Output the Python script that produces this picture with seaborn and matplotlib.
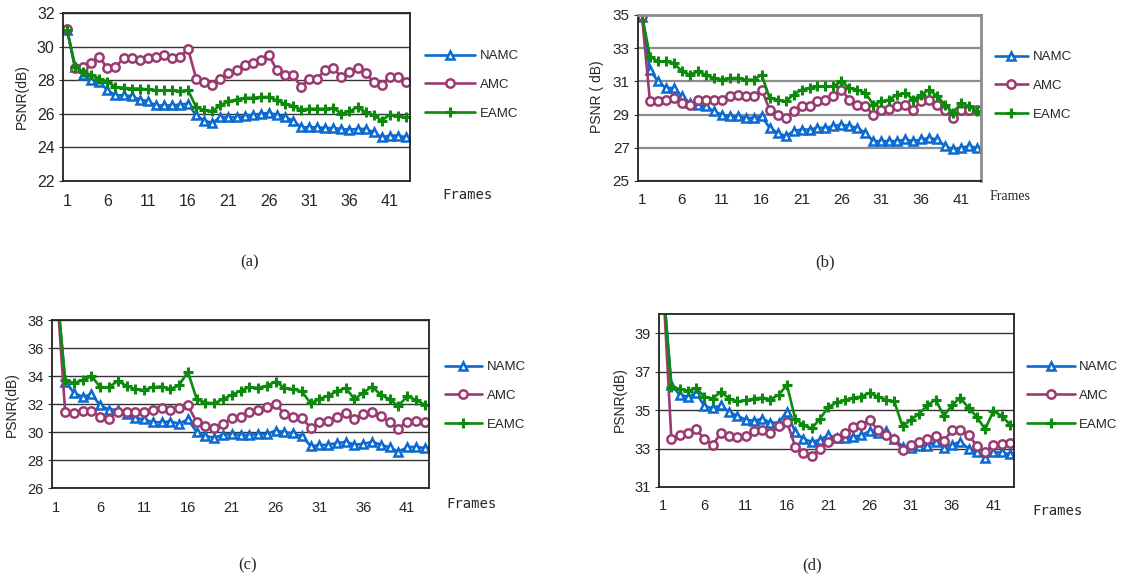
import matplotlib
matplotlib.use('Agg')
import matplotlib.pyplot as plt
import seaborn as sns
import numpy as np

sns.set_style('white')
plt.rcParams['font.family'] = ['Liberation Sans', 'DejaVu Sans']

frames = list(range(1, 44))
methods = ['NAMC', 'AMC', 'EAMC']
colors = {'NAMC': '#0a6ad2', 'AMC': '#9b3a70', 'EAMC': '#0c8a0c'}
markers = {'NAMC': '^', 'AMC': 'o', 'EAMC': '+'}
x_labels = [1, 6, 11, 16, 21, 26, 31, 36, 41]

# (a)
a_namc = [31.0, 28.8, 28.3, 28.0, 27.9, 27.4, 27.1, 27.1, 27.05, 26.85, 26.75, 26.5, 26.5, 26.5, 26.55, 26.6,
          25.9, 25.6, 25.45, 25.8, 25.8, 25.8, 25.85, 25.95, 26.0, 26.05, 25.95, 25.8, 25.6, 25.2, 25.2, 25.2,
          25.15, 25.15, 25.1, 25.05, 25.1, 25.1, 24.9, 24.6, 24.7, 24.7, 24.6]
a_amc = [31.07, 28.7, 28.8, 29.0, 29.4, 28.7, 28.8, 29.3, 29.3, 29.2, 29.3, 29.4, 29.5, 29.3, 29.4, 29.85,
         28.1, 27.9, 27.7, 28.1, 28.4, 28.6, 28.9, 29.0, 29.2, 29.5, 28.6, 28.3, 28.3, 27.6, 28.1, 28.1,
         28.6, 28.7, 28.2, 28.5, 28.7, 28.4, 27.9, 27.7, 28.2, 28.2, 27.9]
a_eamc = [30.97, 28.8, 28.5, 28.3, 28.1, 27.9, 27.6, 27.55, 27.5, 27.5, 27.45, 27.4, 27.4, 27.4, 27.35, 27.4,
          26.4, 26.2, 26.15, 26.5, 26.75, 26.85, 26.95, 26.95, 27.0, 27.0, 26.8, 26.6, 26.45, 26.25, 26.3, 26.3,
          26.3, 26.35, 26.0, 26.15, 26.4, 26.1, 25.9, 25.6, 25.95, 25.85, 25.8]

# (b)
b_namc = [34.9, 31.7, 31.0, 30.6, 30.6, 30.1, 29.7, 29.6, 29.5, 29.2, 29.0, 28.9, 28.9, 28.8, 28.8, 28.9,
          28.2, 27.9, 27.7, 28.0, 28.1, 28.1, 28.2, 28.2, 28.3, 28.4, 28.3, 28.2, 27.9, 27.4, 27.4, 27.4,
          27.4, 27.5, 27.4, 27.5, 27.6, 27.5, 27.1, 26.9, 27.0, 27.1, 27.0]
b_amc = [34.95, 29.8, 29.8, 29.9, 30.0, 29.7, 29.6, 29.9, 29.9, 29.9, 29.9, 30.1, 30.2, 30.1, 30.1, 30.5,
         29.3, 29.0, 28.8, 29.2, 29.5, 29.5, 29.8, 29.9, 30.1, 30.5, 29.9, 29.6, 29.5, 29.0, 29.3, 29.35,
         29.5, 29.6, 29.3, 29.8, 29.9, 29.6, 29.3, 28.8, 29.3, 29.3, 29.3]
b_eamc = [35.0, 32.5, 32.2, 32.2, 32.1, 31.6, 31.4, 31.6, 31.4, 31.2, 31.1, 31.2, 31.2, 31.1, 31.1, 31.4,
          30.0, 29.9, 29.8, 30.2, 30.5, 30.6, 30.7, 30.7, 30.7, 31.0, 30.6, 30.5, 30.3, 29.6, 29.8, 29.9,
          30.2, 30.3, 29.9, 30.2, 30.5, 30.1, 29.6, 29.1, 29.7, 29.5, 29.2]

# (c)
c_namc = [40.6, 33.6, 32.8, 32.5, 32.7, 31.9, 31.6, 31.6, 31.3, 31.0, 30.9, 30.7, 30.7, 30.75, 30.6, 30.9,
          30.0, 29.7, 29.6, 29.8, 29.85, 29.8, 29.8, 29.85, 29.85, 30.1, 30.0, 29.9, 29.7, 29.0, 29.05, 29.1,
          29.2, 29.3, 29.1, 29.15, 29.3, 29.1, 28.9, 28.6, 28.9, 28.95, 28.85]
c_amc = [40.6, 31.45, 31.35, 31.5, 31.5, 31.1, 30.95, 31.45, 31.45, 31.45, 31.4, 31.6, 31.7, 31.6, 31.75, 31.9,
         30.7, 30.45, 30.3, 30.6, 31.0, 31.1, 31.4, 31.6, 31.8, 32.0, 31.3, 31.05, 31.0, 30.3, 30.7, 30.8,
         31.1, 31.35, 30.9, 31.3, 31.45, 31.15, 30.7, 30.25, 30.75, 30.8, 30.75]
c_eamc = [40.6, 33.7, 33.5, 33.7, 34.0, 33.2, 33.2, 33.65, 33.3, 33.05, 33.0, 33.2, 33.25, 33.05, 33.35, 34.3,
          32.35, 32.1, 32.05, 32.35, 32.65, 32.95, 33.2, 33.15, 33.3, 33.6, 33.15, 33.05, 32.9, 32.05, 32.35, 32.6,
          32.9, 33.15, 32.35, 32.8, 33.25, 32.65, 32.35, 31.85, 32.55, 32.3, 31.95]

# (d)
d_namc = [41.5, 36.3, 35.8, 35.7, 35.9, 35.2, 35.1, 35.25, 34.9, 34.7, 34.5, 34.45, 34.55, 34.35, 34.35, 34.9,
          33.85, 33.5, 33.35, 33.45, 33.7, 33.55, 33.55, 33.6, 33.7, 33.9, 33.8, 33.9, 33.5, 33.1, 33.05, 33.15,
          33.15, 33.35, 33.05, 33.2, 33.35, 33.0, 32.8, 32.5, 32.8, 32.8, 32.7]
d_amc = [41.5, 33.5, 33.7, 33.8, 34.0, 33.5, 33.2, 33.8, 33.65, 33.6, 33.65, 33.9, 33.95, 33.8, 34.15, 34.4,
         33.1, 32.75, 32.6, 33.0, 33.35, 33.55, 33.8, 34.1, 34.2, 34.5, 33.95, 33.7, 33.5, 32.9, 33.2, 33.35,
         33.5, 33.65, 33.4, 33.95, 33.95, 33.7, 33.15, 32.8, 33.2, 33.25, 33.3]
d_eamc = [41.5, 36.2, 36.1, 36.0, 36.15, 35.7, 35.6, 35.95, 35.6, 35.45, 35.5, 35.6, 35.65, 35.55, 35.8, 36.3,
          34.55, 34.2, 34.05, 34.55, 35.15, 35.4, 35.5, 35.65, 35.7, 35.9, 35.7, 35.55, 35.45, 34.15, 34.5, 34.8,
          35.25, 35.55, 34.7, 35.25, 35.65, 35.1, 34.65, 34.0, 34.95, 34.7, 34.25]

W, H = 1121, 577
fig = plt.figure(figsize=(W / 100, H / 100), dpi=100)


def px_axes(left, top, right, bottom):
    return fig.add_axes([left / W, 1 - bottom / H, (right - left) / W, (bottom - top) / H])


def panel(box, series, ylim, yticks, ylabel, ylab_pos, leg, frames_pos, caption, cap_pos,
          gray_frame=False, frames_font='DejaVu Sans Mono', tick_size=11):
    ax = px_axes(*box)
    for name, vals in zip(methods, series):
        c = colors[name]
        sns.lineplot(x=frames, y=vals, ax=ax, color=c, marker=markers[name], lw=1.9,
                     ms=7.5 if name == 'EAMC' else 6, mfc='white', mec=c,
                     mew=2.2 if name == 'EAMC' else 1.8, label=name)
    ax.set_xlim(0.5, 43.5)
    ax.set_ylim(*ylim)
    ax.set_yticks(yticks)
    ax.set_xticks(x_labels)
    ax.set_xticks(np.arange(5.5, 43, 5), minor=True)
    ax.tick_params(axis='x', which='major', length=0, labelsize=tick_size, pad=9)
    ax.tick_params(axis='x', which='minor', length=4, direction='in', width=1, color='#333333')
    ax.tick_params(axis='y', length=3, direction='out', labelsize=tick_size, pad=3, color='#333333', left=True)
    gc = '#8c8c8c' if gray_frame else '#333333'
    ax.yaxis.grid(True, color=gc, lw=1.6 if gray_frame else 1.0)
    ax.set_axisbelow(True)
    for side, sp in ax.spines.items():
        sp.set_visible(True)
        if gray_frame and side in ('top', 'right'):
            sp.set_color('#8c8c8c')
            sp.set_linewidth(2.0)
        else:
            sp.set_color('#222222')
            sp.set_linewidth(1.3)
    ax.set_xlabel('')
    ax.set_ylabel('')
    ax.get_legend().remove()
    fig.text(ylab_pos[0] / W, 1 - ylab_pos[1] / H, ylabel, rotation=90, ha='center', va='center',
             fontsize=10)
    handles, labels = ax.get_legend_handles_labels()
    fig.legend(handles, labels, loc='upper left', bbox_to_anchor=(leg[0] / W, 1 - leg[1] / H),
               frameon=False, fontsize=9.5, handlelength=leg[2], handletextpad=0.35,
               labelspacing=1.25, borderpad=0, borderaxespad=0)
    fig.text(frames_pos[0] / W, 1 - frames_pos[1] / H, 'Frames', ha='left', va='center',
             fontsize=10, family=frames_font)
    fig.text(cap_pos[0] / W, 1 - cap_pos[1] / H, caption, ha='center', va='center',
             fontsize=12, family='Liberation Serif')
    return ax


panel((63, 13, 410, 181), [a_namc, a_amc, a_eamc], (22, 32), range(22, 33, 2), 'PSNR(dB)', (22, 97),
      (425, 50, 3.8), (442, 195), '(a)', (250, 262), tick_size=11.5)
panel((638, 15, 981, 181), [b_namc, b_amc, b_eamc], (25, 35), range(25, 36, 2), 'PSNR ( dB)', (597, 97),
      (995, 51, 2.5), (990, 197), '(b)', (825, 262), gray_frame=True, frames_font='Liberation Serif')
panel((52, 320, 429, 488), [c_namc, c_amc, c_eamc], (26, 38), range(26, 39, 2), 'PSNR(dB)', (12, 405),
      (445, 361, 2.8), (446, 504), '(c)', (248, 565), tick_size=10.5)
panel((659, 314, 1014, 487), [d_namc, d_amc, d_eamc], (31, 40), range(31, 40, 2), 'PSNR(dB)', (620, 400),
      (1027, 361, 3.6), (1032, 511), '(d)', (812, 565), tick_size=10.5)

fig.savefig('out.png', dpi=100)
